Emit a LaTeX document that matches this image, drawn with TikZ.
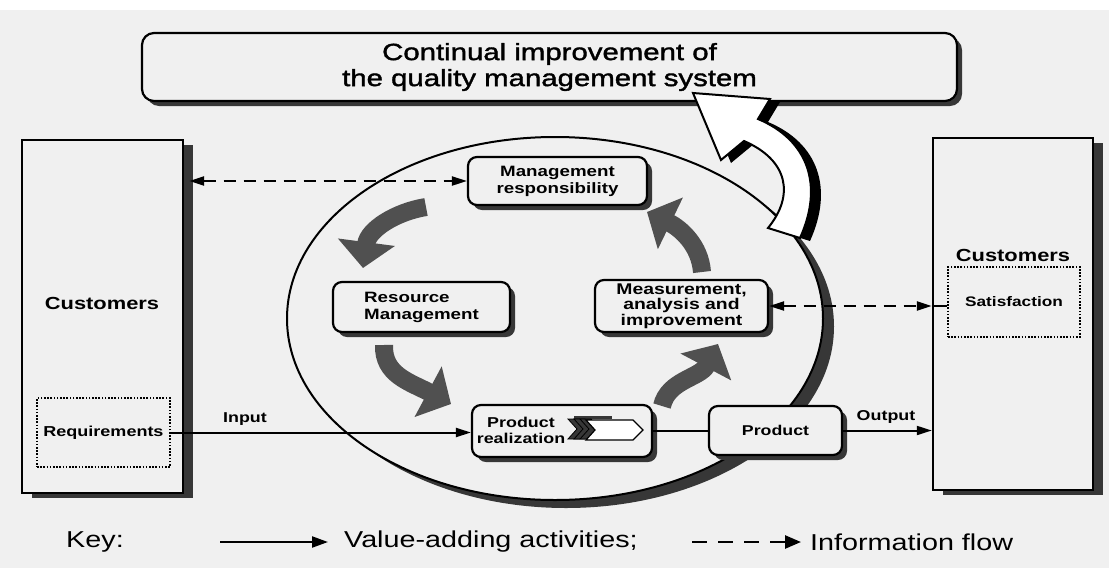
\documentclass[tikz,border=0pt]{standalone}
\usepackage{fontspec}
\setmainfont{Liberation Sans}[FakeStretch=1.25]
\newfontfamily\titlefont{Liberation Sans}[FakeStretch=1.25, FakeBold=1.6]
\usetikzlibrary{arrows.meta,calc,shadows}
\definecolor{paper}{RGB}{240,240,240}
\definecolor{shadowgray}{RGB}{55,55,55}
\definecolor{fatgray}{RGB}{80,80,80}

% outline of the large "continual improvement" arrow
\newcommand{\ciarrow}{(693,93) -- (770,99) -- (758,119)
  .. controls (808,140) and (824,185) .. (800,238) -- (768,228)
  .. controls (795,195) and (788,160) .. (744,141) -- (721,160) -- cycle}

\tikzset{
  sh/.style 2 args={drop shadow={shadow xshift=#1pt, shadow yshift=-#2pt, fill=shadowgray, opacity=1}},
  box/.style={draw, line width=2.2pt, rounded corners=9pt, fill=paper, align=center,
    inner sep=0pt, font=\bfseries\fontsize{15}{17}\selectfont, sh={5}{5}},
  custbox/.style={draw, line width=2.4pt, fill=paper, inner sep=0pt, sh={10}{5}},
  dotbox/.style={draw, line width=2pt, dash pattern=on 1.6pt off 1.6pt, fill=paper, inner sep=0pt,
    font=\bfseries\fontsize{14.4}{16}\selectfont},
  lbl/.style={inner sep=0pt, font=\bfseries\fontsize{17.5}{20}\selectfont},
  small/.style={inner sep=0pt, font=\bfseries\fontsize{14.3}{16}\selectfont},
  keytxt/.style={inner sep=0pt, font=\fontsize{23}{26}\selectfont},
  flow/.style={line width=2pt, -{Triangle[length=15pt,width=9pt]}},
  info/.style={line width=2.3pt, dash pattern=on 12pt off 8pt,
    {Triangle[length=15pt,width=9pt]}-{Triangle[length=15pt,width=9pt]}},
  fatarrow/.style={draw=fatgray, line width=18pt, -{Triangle[length=26pt,width=56pt]}},
}

\begin{document}
\begin{tikzpicture}[x=1pt,y=-1pt]
\useasboundingbox (0,0) rectangle (1109,568);
\fill[paper] (0,0) rectangle (1109,568);
\fill[white] (0,0) rectangle (1109,10);

% the process ring with its shadow
\fill[shadowgray] (566,326.5) ellipse [x radius=268pt, y radius=181.5pt];
\filldraw[fill=paper, draw=black, line width=2pt] (555,318.5) ellipse [x radius=268pt, y radius=181.5pt];

% title
\node[box, rounded corners=12pt, minimum width=815pt, minimum height=68pt,
  font=\titlefont\fontsize{23.5}{26}\selectfont] (cim) at (549.5,67)
  {Continual improvement of\\the quality management system};

% customers on both sides
\node[custbox, minimum width=161pt, minimum height=353pt] (custL) at (102.5,316.5) {};
\node[lbl] (custLt) at (102,303) {Customers};
\node[dotbox, minimum width=133pt, minimum height=69pt] (req) at (103.5,432.5) {Requirements};

\node[custbox, minimum width=160pt, minimum height=352pt] (custR) at (1013,314) {};
\node[lbl] (custRt) at (1013,255) {Customers};
\node[dotbox, minimum width=132pt, minimum height=70pt,
  font=\bfseries\fontsize{13.8}{16}\selectfont] (sat) at (1014,302) {Satisfaction};

% processes
\node[box, minimum width=179pt, minimum height=48pt] (mr) at (557.5,181)
  {Management\\responsibility};
\node[box, align=left, minimum width=177pt, minimum height=50pt] (rm) at (421.5,307)
  {Resource\\Management};
\node[box, minimum width=173pt, minimum height=52pt,
  font=\bfseries\fontsize{15.5}{15.5}\selectfont] (mai) at (681.5,306)
  {Measurement,\\analysis and\\improvement};
\node[box, minimum width=180pt, minimum height=52pt] (pr) at (562,431) {};
\node[small, align=center] (prt) at (521,430) {Product\\realization};
\node[box, minimum width=133pt, minimum height=49pt,
  font=\bfseries\fontsize{14.2}{16}\selectfont] (prod) at (775.5,430.5) {Product};

% chevron icon inside product realization
\fill[shadowgray] (574,416) rectangle (612,419);
\foreach \dx in {0,6,12}
  \filldraw[fill=shadowgray, draw=black, line width=0.8pt]
    ({568+\dx},419) -- ++(11,0) -- ++(9,10) -- ++(-9,10) -- ++(-11,0) -- ++(9,-10) -- cycle;
\filldraw[fill=white, draw=black, line width=1.2pt]
  (586,420) -- (633,420) -- (643,430) -- (633,440) -- (586,440) -- (595,430) -- cycle;

% value-adding flow
\draw[flow] (req.east) -- (req.east -| pr.west);
\node[small] (inlbl) at (245,419) {Input};
\draw[line width=2pt] (pr.east) -- (pr.east -| prod.west);
\draw[flow] (prod.east) -- (prod.east -| custR.west);
\node[small] (outlbl) at (886,417) {Output};

% information flow
\coordinate (mrL) at ($(custL.east |- mr.west)+(5,0)$);
\draw[info] (mrL) -- (mr.west);
\coordinate (satL) at (custR.west |- mai.east);
\draw[info] (mai.east) -- (satL);
\draw[line width=2pt] (satL) -- (sat.west |- satL);

% cycle arrows
\draw[fatarrow] (426,207) .. controls (395,212) and (368,230) .. (363,268);
\draw[fatarrow] (384,345) .. controls (383,375) and (410,382) .. (451,404);
\draw[fatarrow] (662,406) .. controls (668,380) and (700,378) .. (718,344);
\draw[fatarrow] (702,272) .. controls (700,245) and (680,228) .. (647,212);

% continual improvement arrow
\fill[black, xshift=10pt, yshift=-3pt] \ciarrow;
\filldraw[fill=white, draw=black, line width=2pt] \ciarrow;

% key
\node[keytxt] (key) at (95,542) {Key:};
\coordinate (k1a) at (220,542);
\coordinate (k1b) at (328,542);
\draw[line width=2.2pt, -{Triangle[length=16pt,width=11pt]}] (k1a) -- (k1b);
\node[keytxt, anchor=west] (k1t) at (344,542) {Value-adding activities;};
\coordinate (k2a) at (692,542);
\coordinate (k2b) at (801,542);
\draw[line width=2.6pt, dash pattern=on 15pt off 11pt, -{Triangle[length=16pt,width=13pt]}] (k2a) -- (k2b);
\node[keytxt, anchor=west] (k2t) at (810,542) {Information flow};
\end{tikzpicture}
\end{document}
